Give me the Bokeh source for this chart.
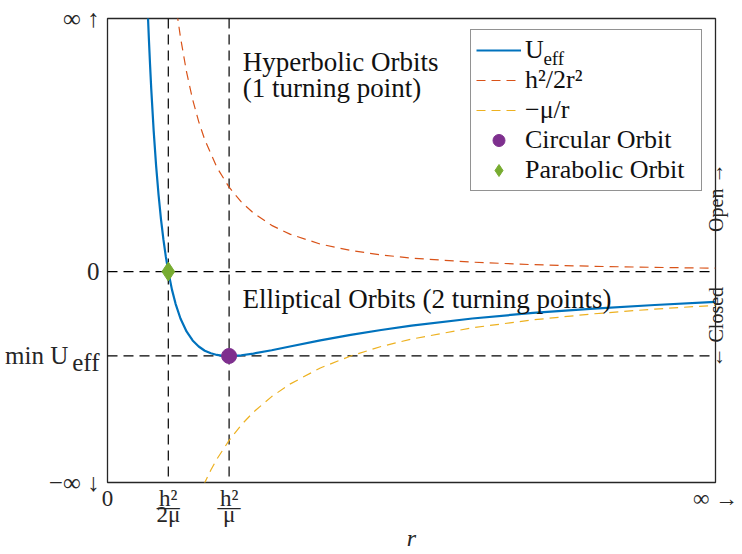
import numpy as np
from bokeh.plotting import figure
from bokeh.models import Span, Label, Legend, LegendItem, FixedTicker, Range1d, LinearAxis
from bokeh.embed import file_html
from bokeh.resources import INLINE

# ---- data (units h = mu = 1) ----
r_eff = [0.33, 0.34, 0.35, 0.36, 0.38, 0.40, 0.42, 0.44, 0.46, 0.48, 0.50, 0.53, 0.56,
         0.60, 0.65, 0.70, 0.75, 0.80, 0.85, 0.90, 0.95, 1.00, 1.10, 1.20, 1.35, 1.50,
         1.75, 2.00, 2.25, 2.50, 3.00, 3.50, 4.00, 4.50, 5.00]
u_eff = [1.561, 1.384, 1.225, 1.080, 0.831, 0.625, 0.454, 0.310, 0.189, 0.087, 0.000,
         -0.107, -0.191, -0.278, -0.355, -0.408, -0.444, -0.469, -0.484, -0.494, -0.499,
         -0.500, -0.496, -0.486, -0.466, -0.444, -0.408, -0.375, -0.346, -0.320, -0.278,
         -0.245, -0.219, -0.198, -0.180]
r_kin = [0.57, 0.60, 0.65, 0.70, 0.75, 0.80, 0.90, 1.00, 1.10, 1.20, 1.35, 1.50, 1.75,
         2.00, 2.25, 2.50, 3.00, 3.50, 4.00, 4.50, 5.00]
u_kin = [1.539, 1.389, 1.183, 1.020, 0.889, 0.781, 0.617, 0.500, 0.413, 0.347, 0.274,
         0.222, 0.163, 0.125, 0.099, 0.080, 0.056, 0.041, 0.031, 0.025, 0.020]
r_pot = [0.79, 0.85, 0.90, 1.00, 1.10, 1.20, 1.35, 1.50, 1.75, 2.00, 2.25, 2.50, 3.00,
         3.50, 4.00, 4.50, 5.00]
u_pot = [-1.266, -1.176, -1.111, -1.000, -0.909, -0.833, -0.741, -0.667, -0.571, -0.500,
         -0.444, -0.400, -0.333, -0.286, -0.250, -0.222, -0.200]
r_circ = [1.0]
u_circ = [-0.5]
r_para = [0.5]
u_para = [0.0]
v_lines = [0.5, 1.0]          # h^2/2mu, h^2/mu
h_lines = [0.0, -0.5]         # 0, min U_eff
x_ticks = [0, 0.5, 1, 5]
x_tick_labels = {0: "0", 0.5: "h²\n—\n2μ", 1: "h²\n—\nμ", 5: "∞ →"}
y_ticks = [-1.25, -0.54, -0.5, 0, 1.5]
NB = "\u00a0"
y_tick_labels = {1.5: "∞ ↑", 0: "0", -0.5: "min U" + NB * 5, -0.54: "eff", -1.25: "−∞ ↓"}
side_label = NB * 23 + "← Closed" + NB * 11 + "Open →"

SERIF = "Liberation Serif"
INK = "#262626"
BLUE, ORANGE, YELLOW = "#0072BD", "#D95319", "#EDB120"
PURPLE, GREEN = "#7E2F8E", "#77AC30"

p = figure(width=742, height=554, output_backend="svg", toolbar_location=None,
           x_range=Range1d(0, 5), y_range=Range1d(-1.25, 1.5),
           min_border_left=107, min_border_right=27, min_border_top=18, min_border_bottom=71)
p.title.visible = False
p.xgrid.visible = False
p.ygrid.visible = False
p.outline_line_color = INK
p.outline_line_width = 1.3
p.outline_line_alpha = 1.0

right_axis = LinearAxis()
p.add_layout(right_axis, "right")

for ax in (p.xaxis[0], p.yaxis[0], right_axis):
    ax.major_tick_line_color = None
    ax.minor_tick_line_color = None
    ax.major_tick_out = 0
    ax.major_tick_in = 0
    ax.minor_tick_out = 0
    ax.minor_tick_in = 0
    ax.axis_line_color = None
    ax.major_label_text_font = SERIF
    ax.major_label_text_color = INK

p.xaxis[0].ticker = FixedTicker(ticks=x_ticks)
p.xaxis[0].major_label_overrides = x_tick_labels
p.xaxis[0].major_label_text_font_size = "23px"
p.xaxis[0].major_label_text_line_height = 0.33
p.xaxis[0].major_label_standoff = 3
p.xaxis[0].axis_label = "r"
p.xaxis[0].axis_label_text_font = SERIF
p.xaxis[0].axis_label_text_font_style = "italic"
p.xaxis[0].axis_label_text_font_size = "24px"
p.xaxis[0].axis_label_text_color = INK
p.xaxis[0].axis_label_standoff = -5

p.yaxis[0].ticker = FixedTicker(ticks=y_ticks)
p.yaxis[0].major_label_overrides = y_tick_labels
p.yaxis[0].major_label_text_font_size = "25px"
p.yaxis[0].major_label_standoff = 8

right_axis.ticker = FixedTicker(ticks=[])
right_axis.axis_label = side_label
right_axis.axis_label_text_font = SERIF
right_axis.axis_label_text_font_style = "normal"
right_axis.axis_label_text_font_size = "20px"
right_axis.axis_label_text_color = INK
right_axis.axis_label_standoff = 0
try:
    right_axis.axis_label_orientation = np.pi / 2
except Exception:
    pass
for val in ("start", "left"):
    try:
        right_axis.axis_label_align = val
        break
    except Exception:
        continue

for x in v_lines:
    p.add_layout(Span(location=x, dimension="height", line_color="black",
                      line_width=1.2, line_dash="10 6", level="underlay"))
for y in h_lines:
    p.add_layout(Span(location=y, dimension="width", line_color="black",
                      line_width=1.2, line_dash="10 6", level="underlay"))

kin_line = p.line(r_kin, u_kin, line_color=ORANGE, line_width=1.2, line_dash="9 6")
pot_line = p.line(r_pot, u_pot, line_color=YELLOW, line_width=1.2, line_dash="9 6")
eff_line = p.line(r_eff, u_eff, line_color=BLUE, line_width=2.2)
circ = p.scatter(r_circ, u_circ, marker="circle", size=15, fill_color=PURPLE, line_color=PURPLE)
para = p.scatter(r_para, u_para, marker="diamond", size=19, fill_color=GREEN, line_color=GREEN)

legend = Legend(items=[
    LegendItem(label="U", renderers=[eff_line]),
    LegendItem(label="h²/2r²", renderers=[kin_line]),
    LegendItem(label="−μ/r", renderers=[pot_line]),
    LegendItem(label="Circular Orbit", renderers=[circ]),
    LegendItem(label="Parabolic Orbit", renderers=[para]),
], location=(363, 291))
legend.label_text_font = SERIF
legend.label_text_font_size = "26px"
legend.label_text_color = "#111111"
legend.glyph_width = 45
legend.glyph_height = 30
legend.label_height = 30
legend.label_width = 171
legend.label_standoff = 4
legend.spacing = 0
legend.padding = 5
legend.margin = 0
legend.border_line_color = INK
legend.border_line_width = 1
legend.background_fill_alpha = 0.0
legend.level = "annotation"
p.add_layout(legend)

def lab(text, x, y, size=27, align="left", style="normal"):
    p.add_layout(Label(text=text, x=x, y=y, x_units="data", y_units="data", text_font=SERIF,
                       text_font_size=f"{size}px", text_align=align, text_baseline="alphabetic",
                       text_font_style=style, text_color="#111111", level="overlay"))

# legend subscript of U_eff (in data units of the inner area)
lab("eff", 3.585, 1.265, size=19)

# annotations inside the axes
lab("Hyperbolic Orbits", 1.113, 1.245)
lab("(1 turning point)", 1.113, 1.089)
lab("Elliptical Orbits (2 turning points)", 1.111, -0.164)

open("out.html", "w").write(file_html(p, INLINE))
